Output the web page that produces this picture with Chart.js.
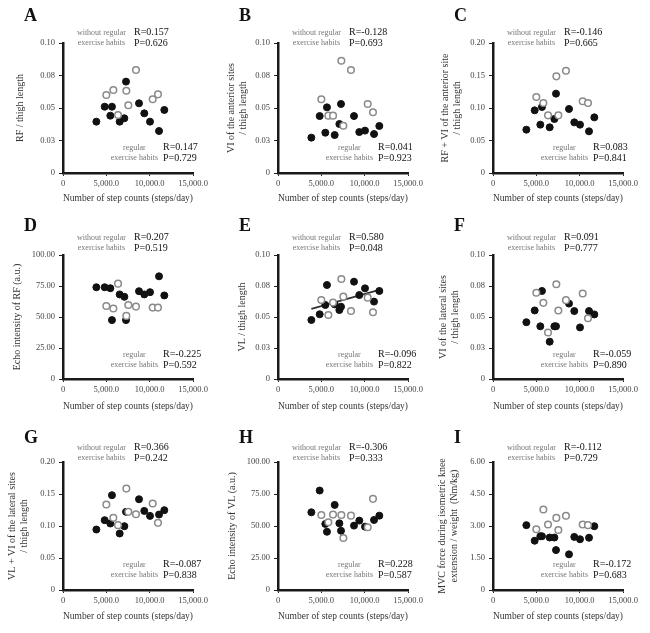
<!DOCTYPE html>
<html>
<head>
<meta charset="utf-8">
<script src="https://cdn.jsdelivr.net/npm/chart.js@4.4.1/dist/chart.umd.min.js"></script>
<style>
body { margin: 0; background: #fff; }
#fig { position: relative; width: 650px; height: 633px; font-family: "Liberation Serif", "Times New Roman", serif; }
.cell { position: absolute; }
.cell .plot { position: absolute; left: 0; top: 0; width: 100%; height: 100%; }
.tag { position: absolute; font-weight: bold; font-size: 18px; line-height: 18px; color: #111; }
.grp { position: absolute; font-size: 8px; line-height: 10px; color: #777; text-align: center; white-space: nowrap; }
.stat { position: absolute; font-size: 10px; line-height: 10.5px; color: #111; white-space: nowrap; }
</style>
</head>
<body>
<div id="fig"></div>
<script>
// step counts (steps/day), same subjects in every panel
const stepsNo  = [3850, 4810, 5460, 5650, 6540, 7080, 7270, 8770, 9380, 10040, 11080, 11690]; // filled: without regular exercise habits
const stepsReg = [5000, 5810, 6350, 7310, 7540, 8420, 10350, 10960];                          // open: regular exercise habits
const xTicks = [0, 5000, 10000, 15000];

// A: RF / thigh length
const aNo  = [0.0395, 0.0510, 0.0441, 0.0510, 0.0395, 0.0421, 0.0703, 0.0536, 0.0459, 0.0395, 0.0323, 0.0485];
const aReg = [0.0600, 0.0638, 0.0446, 0.0633, 0.0521, 0.0792, 0.0567, 0.0605];
// B: VI of the anterior sites / thigh length
const bNo  = [0.0272, 0.0438, 0.0310, 0.0505, 0.0292, 0.0377, 0.0531, 0.0438, 0.0315, 0.0326, 0.0300, 0.0362];
const bReg = [0.0567, 0.0441, 0.0441, 0.0864, 0.0364, 0.0792, 0.0531, 0.0467];
// C: RF + VI of the anterior site / thigh length
const cNo  = [0.0667, 0.0964, 0.0744, 0.1015, 0.0703, 0.0831, 0.1221, 0.0985, 0.0779, 0.0744, 0.0641, 0.0856];
const cReg = [0.1169, 0.1077, 0.0887, 0.1487, 0.0887, 0.1574, 0.1103, 0.1077];
// D: echo intensity of RF
const dNo  = [74.0, 74.0, 73.2, 47.5, 68.2, 66.3, 47.5, 70.8, 68.2, 70.0, 82.8, 67.4];
const dReg = [58.9, 56.8, 76.9, 50.9, 59.7, 58.4, 57.6, 57.6];
// E: VL / thigh length (+ fitted line for the group without habits)
const eNo  = [0.0476, 0.0522, 0.0597, 0.0758, 0.0602, 0.0556, 0.0583, 0.0785, 0.0677, 0.0731, 0.0624, 0.0710];
const eReg = [0.0637, 0.0516, 0.0616, 0.0806, 0.0664, 0.0548, 0.0656, 0.0538];
const eFitX = [3850, 11690];
const eFitY = [0.0565, 0.0718];
// F: VI of the lateral sites / thigh length
const fNo  = [0.0458, 0.0553, 0.0425, 0.0710, 0.0301, 0.0425, 0.0425, 0.0608, 0.0548, 0.0416, 0.0548, 0.0521];
const fReg = [0.0696, 0.0614, 0.0375, 0.0764, 0.0553, 0.0636, 0.0690, 0.0490];
// G: VL + VI of the lateral sites / thigh length
const gNo  = [0.0945, 0.1091, 0.1039, 0.1481, 0.0883, 0.0997, 0.1221, 0.1418, 0.1236, 0.1158, 0.1179, 0.1247];
const gReg = [0.1335, 0.1127, 0.1013, 0.1584, 0.1221, 0.1184, 0.1351, 0.1049];
// H: echo intensity of VL
const hNo  = [60.7, 77.7, 51.6, 45.5, 66.5, 52.1, 46.3, 50.3, 54.2, 49.5, 54.7, 58.1];
const hReg = [58.6, 52.9, 58.9, 58.6, 40.6, 58.1, 49.0, 71.2];
// I: MVC force / weight
const iNo  = [3.04, 2.31, 2.52, 2.52, 2.46, 2.46, 1.87, 1.67, 2.49, 2.38, 2.45, 2.99];
const iReg = [2.85, 3.77, 3.07, 3.38, 2.81, 3.48, 3.07, 3.04];

// y axis tick sets
const ticksLen  = [0, 0.025, 0.05, 0.075, 0.10];
const ticksSum  = [0, 0.05, 0.10, 0.15, 0.20];
const ticksEcho = [0, 25, 50, 75, 100];
const ticksMvc  = [0, 1.5, 3.0, 4.5, 6.0];

// R / P values: [without regular, regular]
const statsR = [['0.157', '0.147'], ['-0.128', '0.041'], ['-0.146', '0.083'],
                ['0.207', '-0.225'], ['0.580', '-0.096'], ['0.091', '-0.059'],
                ['0.366', '-0.087'], ['-0.306', '0.228'], ['-0.112', '-0.172']];
const statsP = [['0.626', '0.729'], ['0.693', '0.923'], ['0.665', '0.841'],
                ['0.519', '0.592'], ['0.048', '0.822'], ['0.777', '0.890'],
                ['0.242', '0.838'], ['0.333', '0.587'], ['0.729', '0.683']];

const panelLetters = ['A', 'B', 'C', 'D', 'E', 'F', 'G', 'H', 'I'];
const yTitles = [
    'RF / thigh length',
    ['VI of the anterior sites', '/ thigh length'],
    ['RF + VI of the anterior site', '/ thigh length'],
    'Echo intensity of RF (a.u.)',
    'VL / thigh length',
    ['VI of the lateral sites', '/ thigh length'],
    ['VL + VI of the lateral sites', '/ thigh length'],
    'Echo intensity of VL (a.u.)',
    ['MVC force during isometric knee', 'extension / weight  (Nm/kg)']
];
const xTitle = 'Number of step counts (steps/day)';

// --- layout of the 3x3 grid ---
const cols = [{ x: 0, w: 215 }, { x: 215, w: 215 }, { x: 430, w: 220 }];
const rows = [
    { y: 0,   h: 205, top: 43, bottom: 173, tag: 15, titlePad: 0,  stat2: 148 },
    { y: 205, h: 210, top: 50, bottom: 174, tag: 20, titlePad: 2,  stat2: 150 },
    { y: 415, h: 218, top: 47, bottom: 175, tag: 22, titlePad: 10, stat2: 150 }
];
const PLOT_LEFT = 63;
const PLOT_RIGHT = 193;
const yTitlePads = [14, 10, 9, 11, 21, 7, 6, 11, 6];

Chart.defaults.font.family = "'Liberation Serif', 'Times New Roman', serif";
Chart.defaults.color = '#333';

const fmtY = (v) => {
    if (Math.abs(v) < 1e-9) return '0';
    return (Math.round(v * 100 + 1e-9) / 100).toFixed(2);
};
const fmtX = (v) => v === 0 ? '0' : v.toLocaleString('en-US', { minimumFractionDigits: 1, maximumFractionDigits: 1 });

const toPoints = (xs, ys) => xs.map((x, i) => ({ x: x, y: ys[i] }));

const panels = [
    { no: aNo, reg: aReg, ticks: ticksLen },
    { no: bNo, reg: bReg, ticks: ticksLen },
    { no: cNo, reg: cReg, ticks: ticksSum },
    { no: dNo, reg: dReg, ticks: ticksEcho },
    { no: eNo, reg: eReg, ticks: ticksLen, fit: true },
    { no: fNo, reg: fReg, ticks: ticksLen },
    { no: gNo, reg: gReg, ticks: ticksSum },
    { no: hNo, reg: hReg, ticks: ticksEcho },
    { no: iNo, reg: iReg, ticks: ticksMvc }
];

const fig = document.getElementById('fig');

function addDiv(parent, cls, html, style) {
    const d = document.createElement('div');
    d.className = cls;
    d.innerHTML = html;
    Object.assign(d.style, style);
    parent.appendChild(d);
    return d;
}

panels.forEach((p, k) => {
    const col = cols[k % 3];
    const row = rows[Math.floor(k / 3)];

    const cell = document.createElement('div');
    cell.className = 'cell';
    Object.assign(cell.style, { left: col.x + 'px', top: row.y + 'px', width: col.w + 'px', height: row.h + 'px' });
    fig.appendChild(cell);

    const wrap = document.createElement('div');
    wrap.className = 'plot';
    const canvas = document.createElement('canvas');
    wrap.appendChild(canvas);
    cell.appendChild(wrap);

    const datasets = [
        {
            label: 'regular exercise habits',
            data: toPoints(stepsReg, p.reg),
            pointRadius: 3.3,
            pointBackgroundColor: '#fff',
            pointBorderColor: '#8a8a8a',
            pointBorderWidth: 1.5
        },
        {
            label: 'without regular exercise habits',
            data: toPoints(stepsNo, p.no),
            pointRadius: 3.5,
            pointBackgroundColor: '#111',
            pointBorderColor: '#111',
            pointBorderWidth: 1
        }
    ];
    if (p.fit) {
        datasets.push({
            type: 'line',
            label: 'fit',
            data: toPoints(eFitX, eFitY),
            borderColor: '#333',
            borderWidth: 1.8,
            pointRadius: 0,
            fill: false
        });
    }

    const yMax = p.ticks[p.ticks.length - 1];
    new Chart(canvas, {
        type: 'scatter',
        data: { datasets: datasets },
        options: {
            responsive: true,
            maintainAspectRatio: false,
            animation: false,
            layout: { padding: { top: row.top, right: col.w - PLOT_RIGHT, left: 0, bottom: 0 } },
            plugins: { legend: { display: false }, tooltip: { enabled: false } },
            scales: {
                x: {
                    type: 'linear',
                    min: 0,
                    max: xTicks[xTicks.length - 1],
                    afterBuildTicks: (s) => { s.ticks = xTicks.map(v => ({ value: v })); },
                    afterFit: (s) => { s.height = row.h - row.bottom; },
                    ticks: { callback: fmtX, font: { size: 8.5 }, color: '#444', maxRotation: 0, autoSkip: false, padding: 3 },
                    grid: { display: true, drawOnChartArea: false, drawTicks: true, tickLength: 3, color: '#222' },
                    border: { display: true, color: '#1a1a1a', width: 2.5 },
                    title: { display: true, text: xTitle, color: '#333', font: { size: 10.5 }, padding: { top: 0, bottom: row.titlePad } }
                },
                y: {
                    min: 0,
                    max: yMax,
                    afterBuildTicks: (s) => { s.ticks = p.ticks.map(v => ({ value: v })); },
                    afterFit: (s) => { s.width = PLOT_LEFT; },
                    ticks: { callback: fmtY, font: { size: 8.5 }, color: '#444', padding: 4 },
                    grid: { display: true, drawOnChartArea: false, drawTicks: true, tickLength: 4, color: '#222' },
                    border: { display: true, color: '#1a1a1a', width: 2.5 },
                    title: { display: true, text: yTitles[k], color: '#333', font: { size: 10 }, padding: { top: yTitlePads[k], bottom: 0 } }
                }
            }
        }
    });

    // panel letter and group statistics
    addDiv(cell, 'tag', panelLetters[k], { left: '24px', top: (row.tag - 9) + 'px' });
    addDiv(cell, 'grp', 'without regular<br>exercise habits', { right: (col.w - 126) + 'px', top: '28px' });
    addDiv(cell, 'stat', 'R=' + statsR[k][0] + '<br>P=' + statsP[k][0], { left: '134px', top: '27px' });
    addDiv(cell, 'grp', 'regular<br>exercise habits', { right: (col.w - 158) + 'px', top: (row.stat2 - 5) + 'px' });
    addDiv(cell, 'stat', 'R=' + statsR[k][1] + '<br>P=' + statsP[k][1], { left: '163px', top: (row.stat2 - 6) + 'px' });
});
</script>
</body>
</html>
